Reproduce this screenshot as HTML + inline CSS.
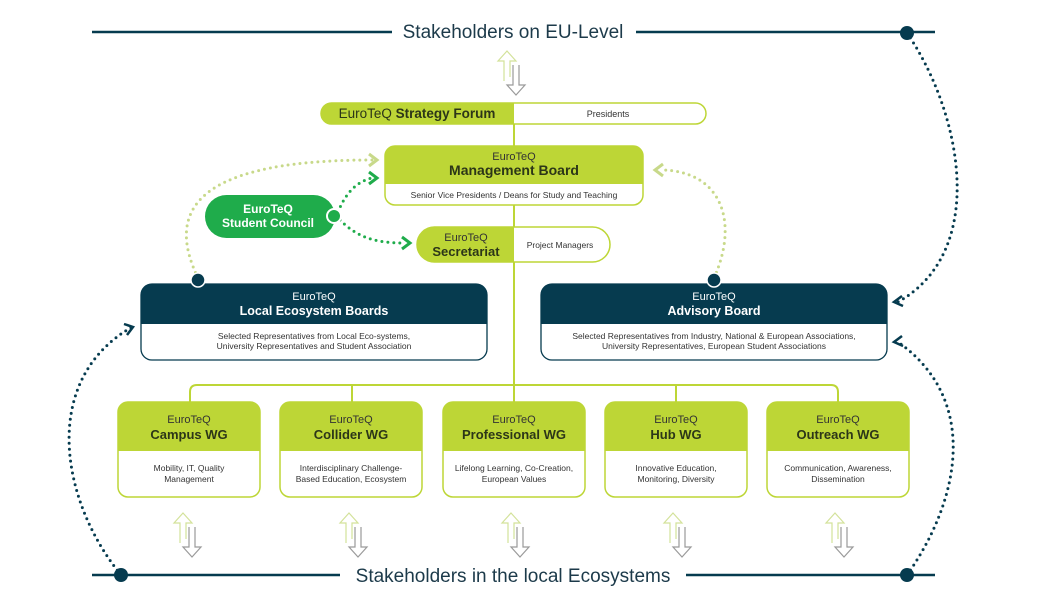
<!DOCTYPE html>
<html><head><meta charset="utf-8"><style>
html,body{margin:0;padding:0;background:#fff;}
svg{display:block;font-family:"Liberation Sans",sans-serif;}
</style></head><body>
<svg width="1052" height="612" viewBox="0 0 1052 612" xmlns="http://www.w3.org/2000/svg">
<defs>
<g id="dbl">
 <path d="M-6,20 V0 h-6 l9,-10 l9,10 h-6 v16" fill="none" stroke="#d3e29a" stroke-width="1.2"/>
 <path d="M3,4 V24 h-6 l9,10 l9,-10 h-6 v-20" fill="none" stroke="#9a9a9a" stroke-width="1.2"/>
</g>
</defs>
<!-- top/bottom lines -->
<g stroke="#063b4f" stroke-width="2.5">
<line x1="92" y1="32" x2="392" y2="32"/><line x1="636" y1="32" x2="935" y2="32"/>
<line x1="92" y1="575" x2="340" y2="575"/><line x1="686" y1="575" x2="935" y2="575"/>
</g>
<text x="513" y="38" font-size="19" fill="#1c3a4a" text-anchor="middle">Stakeholders on EU-Level</text>
<text x="513" y="582" font-size="19" fill="#1c3a4a" text-anchor="middle">Stakeholders in the local Ecosystems</text>
<!-- outer dotted curves -->
<g fill="none" stroke="#063b4f" stroke-width="3" stroke-linecap="round" stroke-dasharray="0 6">
<path d="M907,33 C960,110 990,250 898,302"/>
<path d="M907,575 C960,500 980,400 898,342"/>
<path d="M121,575 C60,500 40,380 132,327"/>
</g>
<g fill="none" stroke="#063b4f" stroke-width="2.5">
<path d="M902,296 l-8,6 l9,4"/><path d="M902,336 l-8,6 l9,4"/><path d="M124,324 l9,3 l-6,8"/>
</g>
<g fill="#063b4f"><circle cx="907" cy="33" r="7"/><circle cx="907" cy="575" r="7"/><circle cx="121" cy="575" r="7"/></g>
<!-- inner dotted curves -->
<g fill="none" stroke="#c8d98a" stroke-width="3" stroke-linecap="round" stroke-dasharray="0 6">
<path d="M198,278 C170,220 180,160 372,160"/>
<path d="M714,278 C740,220 720,170 660,170"/>
</g>
<g fill="none" stroke="#c8d98a" stroke-width="3"><path d="M369,154 l8,6 l-8,6"/><path d="M663,164 l-8,6 l8,6"/></g>
<g fill="none" stroke="#1fac4b" stroke-width="3" stroke-linecap="round" stroke-dasharray="0 6">
<path d="M338,212 C345,195 355,182 372,178"/>
<path d="M340,220 C360,240 380,243 405,243"/>
</g>
<g fill="none" stroke="#1fac4b" stroke-width="3"><path d="M369,172 l8,6 l-8,6"/><path d="M402,237 l8,6 l-8,6"/></g>
<!-- main vertical & connectors -->
<g stroke="#bdd636" stroke-width="2" fill="none">
<line x1="514" y1="124" x2="514" y2="385"/>
<path d="M190,402 V392 q0,-7 7,-7 H831 q7,0 7,7 V402"/>
<line x1="352" y1="385" x2="352" y2="402"/><line x1="676" y1="385" x2="676" y2="402"/>
<line x1="514" y1="385" x2="514" y2="402"/>
</g>
<use href="#dbl" x="510" y="61"/>
<!-- strategy forum -->
<rect x="321" y="103" width="385" height="21" rx="10.5" fill="#fff" stroke="#bdd636" stroke-width="1.5"/>
<path d="M331.5,103 H514 V124 H331.5 a10.5,10.5 0 0 1 0,-21z" fill="#bdd636"/>
<text x="417" y="118" font-size="13.5" fill="#2c3618" text-anchor="middle">EuroTeQ <tspan font-weight="bold">Strategy Forum</tspan></text>
<text x="608" y="117" font-size="9" fill="#333" text-anchor="middle">Presidents</text>
<!-- management board -->
<rect x="385" y="146" width="258" height="59" rx="10" fill="#fff" stroke="#bdd636" stroke-width="1.5"/>
<path d="M395,146 H633 a10,10 0 0 1 10,10 V184 H385 V156 a10,10 0 0 1 10,-10z" fill="#bdd636"/>
<text x="514" y="160" font-size="11" fill="#333" text-anchor="middle">EuroTeQ</text>
<text x="514" y="175" font-size="14" font-weight="bold" fill="#2c3618" text-anchor="middle">Management Board</text>
<text x="514" y="198" font-size="8.5" fill="#333" text-anchor="middle">Senior Vice Presidents / Deans for Study and Teaching</text>
<!-- student council -->
<rect x="205" y="195" width="130" height="43" rx="21.5" fill="#1fac4b"/>
<text x="268" y="213" font-size="12" font-weight="bold" fill="#fff" text-anchor="middle">EuroTeQ</text>
<text x="268" y="227" font-size="12" font-weight="bold" fill="#fff" text-anchor="middle">Student Council</text>
<circle cx="334" cy="216" r="7" fill="#1fac4b" stroke="#fff" stroke-width="2"/>
<!-- secretariat -->
<rect x="417" y="227" width="193" height="35" rx="17.5" fill="#fff" stroke="#bdd636" stroke-width="1.5"/>
<path d="M434.5,227 H514 V262 H434.5 a17.5,17.5 0 0 1 0,-35z" fill="#bdd636"/>
<text x="466" y="241" font-size="11" fill="#333" text-anchor="middle">EuroTeQ</text>
<text x="466" y="256" font-size="13" font-weight="bold" fill="#2c3618" text-anchor="middle">Secretariat</text>
<text x="560" y="248" font-size="8.5" fill="#333" text-anchor="middle">Project Managers</text>
<!-- local ecosystem boards -->
<rect x="141" y="284" width="346" height="76" rx="11" fill="#fff" stroke="#063b4f" stroke-width="1.3"/>
<path d="M152,284 H476 a11,11 0 0 1 11,11 V324 H141 V295 a11,11 0 0 1 11,-11z" fill="#063b4f"/>
<text x="314" y="300" font-size="11" fill="#fff" text-anchor="middle">EuroTeQ</text>
<text x="314" y="315" font-size="12.5" font-weight="bold" fill="#fff" text-anchor="middle">Local Ecosystem Boards</text>
<text x="314" y="339" font-size="8.5" fill="#333" text-anchor="middle">Selected Representatives from Local Eco-systems,</text>
<text x="314" y="349" font-size="8.5" fill="#333" text-anchor="middle">University Representatives and Student Association</text>
<circle cx="198" cy="280" r="7" fill="#063b4f" stroke="#fff" stroke-width="1.5"/>
<!-- advisory board -->
<rect x="541" y="284" width="346" height="76" rx="11" fill="#fff" stroke="#063b4f" stroke-width="1.3"/>
<path d="M552,284 H876 a11,11 0 0 1 11,11 V324 H541 V295 a11,11 0 0 1 11,-11z" fill="#063b4f"/>
<text x="714" y="300" font-size="11" fill="#fff" text-anchor="middle">EuroTeQ</text>
<text x="714" y="315" font-size="12.5" font-weight="bold" fill="#fff" text-anchor="middle">Advisory Board</text>
<text x="714" y="339" font-size="8.5" fill="#333" text-anchor="middle">Selected Representatives from Industry, National &amp; European Associations,</text>
<text x="714" y="349" font-size="8.5" fill="#333" text-anchor="middle">University Representatives, European Student Associations</text>
<circle cx="714" cy="280" r="7" fill="#063b4f" stroke="#fff" stroke-width="1.5"/>
<!-- WGs -->
<g id="wgs">
<g transform="translate(118,0)">
 <rect x="0" y="402" width="142" height="95" rx="10" fill="#fff" stroke="#bdd636" stroke-width="1.5"/>
 <path d="M10,402 H132 a10,10 0 0 1 10,10 V451 H0 V412 a10,10 0 0 1 10,-10z" fill="#bdd636"/>
 <text x="71" y="423" font-size="11" fill="#333" text-anchor="middle">EuroTeQ</text>
 <text x="71" y="439" font-size="13" font-weight="bold" fill="#2c3618" text-anchor="middle">Campus WG</text>
 <text x="71" y="471" font-size="8.5" fill="#333" text-anchor="middle">Mobility, IT, Quality</text>
 <text x="71" y="482" font-size="8.5" fill="#333" text-anchor="middle">Management</text>
 <use href="#dbl" x="68" y="523"/>
</g>
<g transform="translate(280,0)">
 <rect x="0" y="402" width="142" height="95" rx="10" fill="#fff" stroke="#bdd636" stroke-width="1.5"/>
 <path d="M10,402 H132 a10,10 0 0 1 10,10 V451 H0 V412 a10,10 0 0 1 10,-10z" fill="#bdd636"/>
 <text x="71" y="423" font-size="11" fill="#333" text-anchor="middle">EuroTeQ</text>
 <text x="71" y="439" font-size="13" font-weight="bold" fill="#2c3618" text-anchor="middle">Collider WG</text>
 <text x="71" y="471" font-size="8.5" fill="#333" text-anchor="middle">Interdisciplinary Challenge-</text>
 <text x="71" y="482" font-size="8.5" fill="#333" text-anchor="middle">Based Education, Ecosystem</text>
 <use href="#dbl" x="72" y="523"/>
</g>
<g transform="translate(443,0)">
 <rect x="0" y="402" width="142" height="95" rx="10" fill="#fff" stroke="#bdd636" stroke-width="1.5"/>
 <path d="M10,402 H132 a10,10 0 0 1 10,10 V451 H0 V412 a10,10 0 0 1 10,-10z" fill="#bdd636"/>
 <text x="71" y="423" font-size="11" fill="#333" text-anchor="middle">EuroTeQ</text>
 <text x="71" y="439" font-size="13" font-weight="bold" fill="#2c3618" text-anchor="middle">Professional WG</text>
 <text x="71" y="471" font-size="8.5" fill="#333" text-anchor="middle">Lifelong Learning, Co-Creation,</text>
 <text x="71" y="482" font-size="8.5" fill="#333" text-anchor="middle">European Values</text>
 <use href="#dbl" x="71" y="523"/>
</g>
<g transform="translate(605,0)">
 <rect x="0" y="402" width="142" height="95" rx="10" fill="#fff" stroke="#bdd636" stroke-width="1.5"/>
 <path d="M10,402 H132 a10,10 0 0 1 10,10 V451 H0 V412 a10,10 0 0 1 10,-10z" fill="#bdd636"/>
 <text x="71" y="423" font-size="11" fill="#333" text-anchor="middle">EuroTeQ</text>
 <text x="71" y="439" font-size="13" font-weight="bold" fill="#2c3618" text-anchor="middle">Hub WG</text>
 <text x="71" y="471" font-size="8.5" fill="#333" text-anchor="middle">Innovative Education,</text>
 <text x="71" y="482" font-size="8.5" fill="#333" text-anchor="middle">Monitoring, Diversity</text>
 <use href="#dbl" x="71" y="523"/>
</g>
<g transform="translate(767,0)">
 <rect x="0" y="402" width="142" height="95" rx="10" fill="#fff" stroke="#bdd636" stroke-width="1.5"/>
 <path d="M10,402 H132 a10,10 0 0 1 10,10 V451 H0 V412 a10,10 0 0 1 10,-10z" fill="#bdd636"/>
 <text x="71" y="423" font-size="11" fill="#333" text-anchor="middle">EuroTeQ</text>
 <text x="71" y="439" font-size="13" font-weight="bold" fill="#2c3618" text-anchor="middle">Outreach WG</text>
 <text x="71" y="471" font-size="8.5" fill="#333" text-anchor="middle">Communication, Awareness,</text>
 <text x="71" y="482" font-size="8.5" fill="#333" text-anchor="middle">Dissemination</text>
 <use href="#dbl" x="71" y="523"/>
</g>
</g>
</svg>
</body></html>
